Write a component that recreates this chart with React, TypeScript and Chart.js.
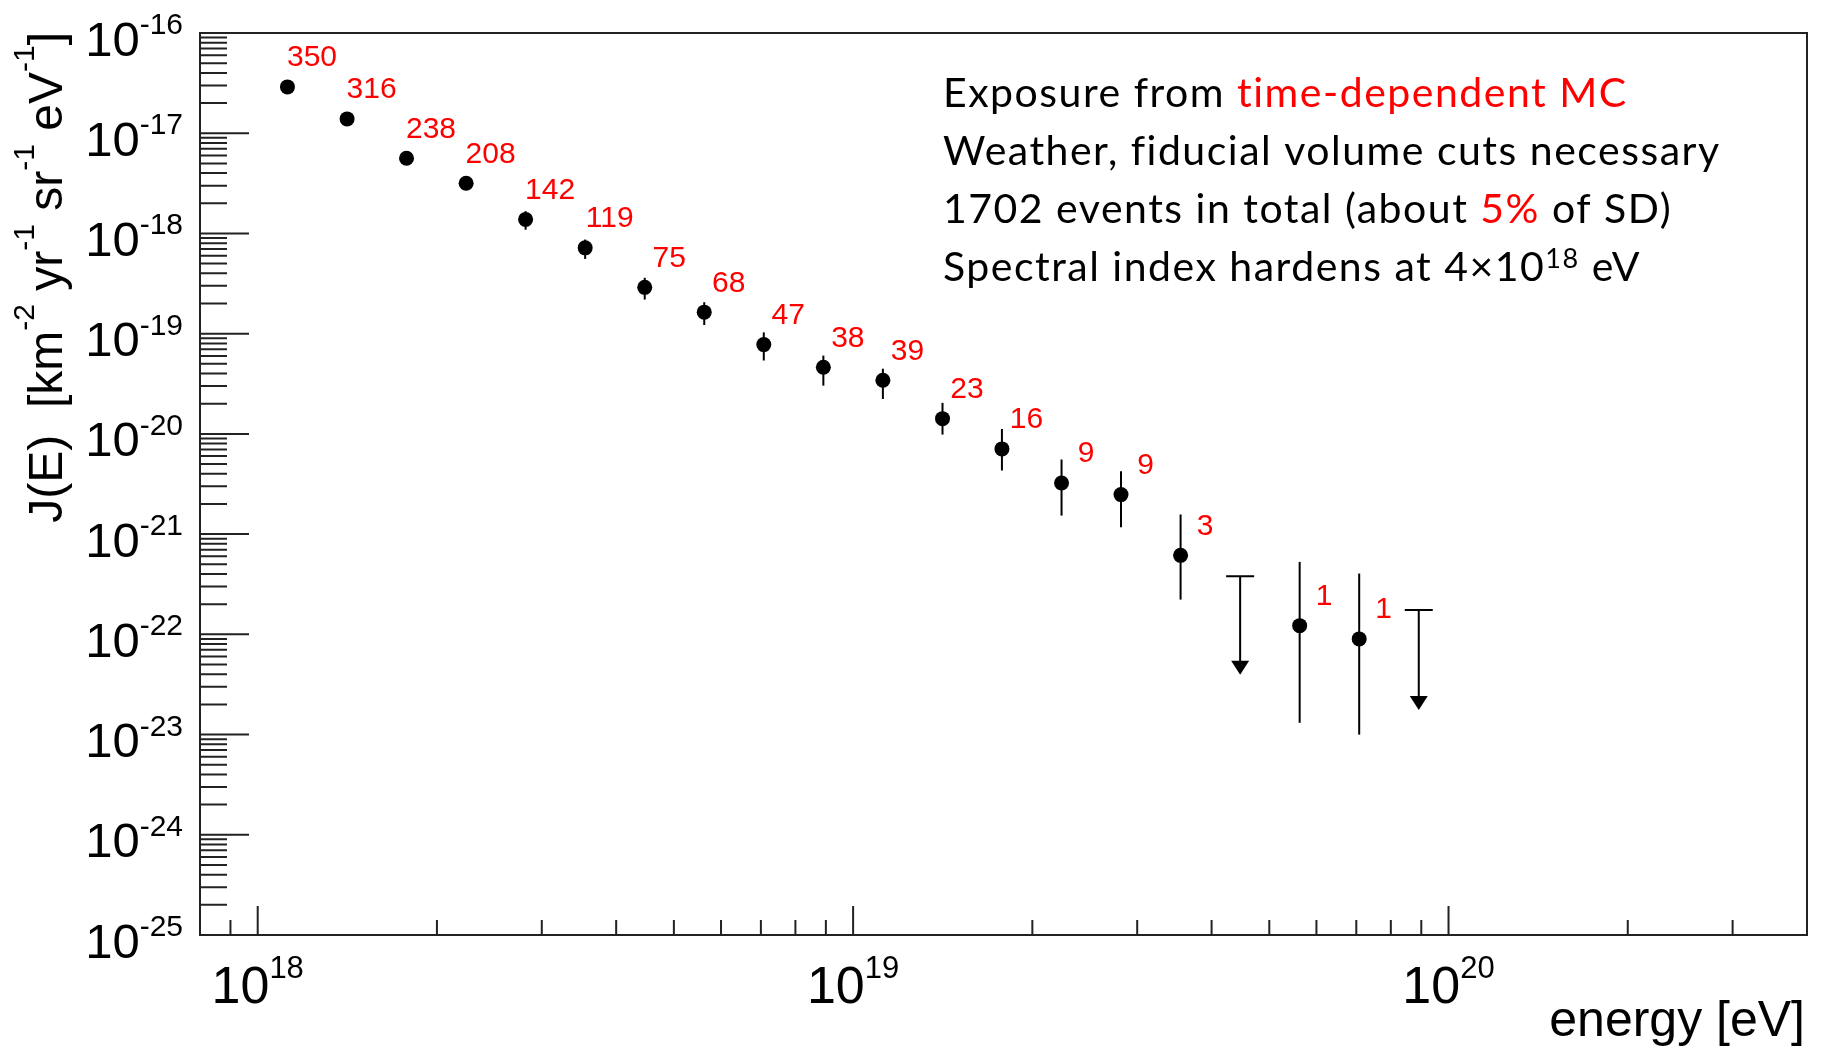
import React, { useEffect, useRef } from 'react';
import { Chart, registerables } from 'chart.js';

Chart.register(...registerables);

// Measured bins: centre energy (eV), flux J(E), error band and number of events
const energy = [
  1.122e18, 1.413e18, 1.778e18, 2.239e18, 2.818e18, 3.548e18, 4.467e18, 5.623e18, 7.079e18,
  8.913e18, 1.122e19, 1.413e19, 1.778e19, 2.239e19, 2.818e19, 3.548e19, 5.623e19, 7.079e19,
];
const flux = [
  2.9e-17, 1.39e-17, 5.63e-18, 3.17e-18, 1.38e-18, 7.18e-19, 2.9e-19, 1.64e-19, 7.78e-20,
  4.62e-20, 3.43e-20, 1.42e-20, 7.08e-21, 3.24e-21, 2.48e-21, 6.14e-22, 1.22e-22, 9.0e-23,
];
const fluxUpper = [
  3.08e-17, 1.48e-17, 6.05e-18, 3.45e-18, 1.67e-18, 8.69e-19, 3.61e-19, 2.06e-19, 1.03e-19,
  6.04e-20, 4.47e-20, 2.04e-20, 1.12e-20, 5.55e-21, 4.24e-21, 1.57e-21, 5.28e-22, 4.04e-22,
];
const fluxLower = [
  2.74e-17, 1.31e-17, 5.25e-18, 2.9e-18, 1.09e-18, 5.57e-19, 2.19e-19, 1.22e-19, 5.4e-20,
  3.03e-20, 2.23e-20, 9.84e-21, 4.31e-21, 1.53e-21, 1.17e-21, 2.22e-22, 1.31e-23, 9.98e-24,
];
const events = [350, 316, 238, 208, 142, 119, 75, 68, 47, 38, 39, 23, 16, 9, 9, 3, 1, 1];

// Empty bins: upper limit and the end of the downward arrow
const limitEnergy = [4.467e19, 8.913e19];
const limitFlux = [3.79e-22, 1.75e-22];
const limitArrowEnd = [3.96e-23, 1.76e-23];

// Axis ranges and tick labels
const xRange = [8e17, 4e20];
const yRange = [1e-25, 1e-16];
const xMajorTicks = [1e18, 1e19, 1e20];
const xTickExponents = ['18', '19', '20'];
const yMajorTicks = [1e-25, 1e-24, 1e-23, 1e-22, 1e-21, 1e-20, 1e-19, 1e-18, 1e-17, 1e-16];
const yTickExponents = ['-25', '-24', '-23', '-22', '-21', '-20', '-19', '-18', '-17', '-16'];
const minorMultipliers = [2, 3, 4, 5, 6, 7, 8, 9];

type Seg = { t: string; sup?: boolean; color?: string };

const RED = '#ff0000';
const AXIS_FONT = '"Liberation Sans", Arial, Helvetica, sans-serif';
const NOTE_FONT = 'Lato, "Open Sans", sans-serif';

const yTitle: Seg[] = [
  { t: 'J(E)  [km' }, { t: '-2', sup: true }, { t: ' yr' }, { t: '-1', sup: true },
  { t: ' sr' }, { t: '-1', sup: true }, { t: ' eV' }, { t: '-1', sup: true }, { t: ']' },
];
const xTitle: Seg[] = [{ t: 'energy [eV]' }];

const noteLines: Seg[][] = [
  [{ t: 'Exposure from ' }, { t: 'time-dependent MC', color: RED }],
  [{ t: 'Weather, fiducial volume cuts necessary' }],
  [{ t: '1702 events in total (about ' }, { t: '5%', color: RED }, { t: ' of SD)' }],
  [{ t: 'Spectral index hardens at 4×10' }, { t: '18', sup: true }, { t: ' eV' }],
];

type RichOpts = {
  family: string;
  size: number;
  supSize: number;
  raise: number;
  align: 'left' | 'center' | 'right';
  color?: string;
  spacing?: number;
};

function drawRich(ctx: CanvasRenderingContext2D, segs: Seg[], x: number, y: number, o: RichOpts) {
  ctx.textAlign = 'left';
  ctx.textBaseline = 'alphabetic';
  const c = ctx as any;
  c.letterSpacing = `${o.spacing || 0}px`;
  const widths = segs.map((s) => {
    ctx.font = `${s.sup ? o.supSize : o.size}px ${o.family}`;
    return ctx.measureText(s.t).width;
  });
  const total = widths.reduce((a, b) => a + b, 0);
  let cx = o.align === 'left' ? x : o.align === 'center' ? x - total / 2 : x - total;
  segs.forEach((s, i) => {
    ctx.font = `${s.sup ? o.supSize : o.size}px ${o.family}`;
    ctx.fillStyle = s.color || o.color || '#000';
    ctx.fillText(s.t, cx, s.sup ? y - o.raise : y);
    cx += widths[i];
  });
  c.letterSpacing = '0px';
}

// Frame, inward ticks, exponent labels, axis titles and notes (ROOT style)
const framePlugin = {
  id: 'rootFrame',
  beforeDatasetsDraw(chart: any) {
    const ctx: CanvasRenderingContext2D = chart.ctx;
    const xs = chart.scales.x;
    const ys = chart.scales.y;
    ctx.save();
    ctx.strokeStyle = '#000';
    ctx.fillStyle = '#000';
    ctx.lineWidth = 2;
    // vertical error bars of measured bins
    energy.forEach((e, i) => {
      const px = xs.getPixelForValue(e);
      ctx.beginPath();
      ctx.moveTo(px, ys.getPixelForValue(fluxUpper[i]));
      ctx.lineTo(px, ys.getPixelForValue(fluxLower[i]));
      ctx.stroke();
    });
    // upper limits with downward arrows
    limitEnergy.forEach((e, i) => {
      const px = xs.getPixelForValue(e);
      const top = ys.getPixelForValue(limitFlux[i]);
      const tip = ys.getPixelForValue(limitArrowEnd[i]);
      ctx.beginPath();
      ctx.moveTo(px - 14, top);
      ctx.lineTo(px + 14, top);
      ctx.moveTo(px, top);
      ctx.lineTo(px, tip - 12);
      ctx.stroke();
      ctx.beginPath();
      ctx.moveTo(px - 9, tip - 14);
      ctx.lineTo(px + 9, tip - 14);
      ctx.lineTo(px, tip);
      ctx.closePath();
      ctx.fill();
    });
    ctx.restore();
  },
  afterDraw(chart: any) {
    const ctx: CanvasRenderingContext2D = chart.ctx;
    const { left, right, top, bottom } = chart.chartArea;
    const xs = chart.scales.x;
    const ys = chart.scales.y;
    ctx.save();
    ctx.strokeStyle = '#222';
    ctx.lineWidth = 2;
    ctx.strokeRect(left, top, right - left, bottom - top);

    // y ticks on the left frame
    ctx.beginPath();
    yMajorTicks.forEach((v, k) => {
      const py = ys.getPixelForValue(v);
      if (k > 0 && k < yMajorTicks.length - 1) {
        ctx.moveTo(left, py);
        ctx.lineTo(left + 49, py);
      }
      if (k < yMajorTicks.length - 1) {
        minorMultipliers.forEach((m) => {
          const pm = ys.getPixelForValue(v * m);
          ctx.moveTo(left, pm);
          ctx.lineTo(left + 27, pm);
        });
      }
    });
    // x ticks on the bottom frame
    xMajorTicks.forEach((v) => {
      const px = xs.getPixelForValue(v);
      ctx.moveTo(px, bottom);
      ctx.lineTo(px, bottom - 29);
    });
    [1e17, ...xMajorTicks].forEach((v) => {
      minorMultipliers.forEach((m) => {
        const val = v * m;
        if (val <= xRange[0] || val >= xRange[1]) return;
        const px = xs.getPixelForValue(val);
        ctx.moveTo(px, bottom);
        ctx.lineTo(px, bottom - 15);
      });
    });
    ctx.stroke();

    // tick labels
    yMajorTicks.forEach((v, k) => {
      const py = ys.getPixelForValue(v);
      drawRich(ctx, [{ t: '10' }, { t: yTickExponents[k], sup: true }], 183, py + 22.5, {
        family: AXIS_FONT, size: 49, supSize: 30, raise: 21.5, align: 'right',
      });
    });
    xMajorTicks.forEach((v, k) => {
      const px = xs.getPixelForValue(v);
      drawRich(ctx, [{ t: '10' }, { t: xTickExponents[k], sup: true }], px, 1003, {
        family: AXIS_FONT, size: 52, supSize: 31, raise: 25.5, align: 'center',
      });
    });

    // axis titles
    drawRich(ctx, xTitle, 1805, 1036, { family: AXIS_FONT, size: 50, supSize: 30, raise: 20, align: 'right' });
    ctx.save();
    ctx.translate(62, 32);
    ctx.rotate(-Math.PI / 2);
    drawRich(ctx, yTitle, 0, 0, { family: AXIS_FONT, size: 48, supSize: 30, raise: 28, align: 'right' });
    ctx.restore();

    // number of events in each bin
    energy.forEach((e, i) => {
      const px = xs.getPixelForValue(e);
      const py = ys.getPixelForValue(flux[i]);
      drawRich(ctx, [{ t: String(events[i]) }], px + 24.5, py - 20.6, {
        family: AXIS_FONT, size: 30, supSize: 20, raise: 10, align: 'center', color: RED,
      });
    });

    // notes
    noteLines.forEach((line, k) => {
      drawRich(ctx, line, 943, 107 + k * 58, {
        family: NOTE_FONT, size: 41, supSize: 27, raise: 13, align: 'left', spacing: 1.5,
      });
    });
    ctx.restore();
  },
};

export default function App() {
  const canvasRef = useRef<HTMLCanvasElement | null>(null);

  useEffect(() => {
    const canvas = canvasRef.current;
    if (!canvas) return;
    const chart = new Chart(canvas, {
      type: 'scatter',
      data: {
        datasets: [
          {
            label: 'J(E)',
            data: energy.map((e, i) => ({ x: e, y: flux[i] })),
            backgroundColor: '#000',
            borderColor: '#000',
            borderWidth: 0,
            pointRadius: 7.5,
            pointHoverRadius: 7.5,
          },
        ],
      },
      options: {
        responsive: false,
        animation: false,
        devicePixelRatio: 1,
        layout: { padding: { left: 200, top: 33, right: 15, bottom: 113 } },
        plugins: { legend: { display: false }, tooltip: { enabled: false } },
        events: [],
        scales: {
          x: { type: 'logarithmic', min: xRange[0], max: xRange[1], display: false },
          y: { type: 'logarithmic', min: yRange[0], max: yRange[1], display: false },
        },
      },
      plugins: [framePlugin],
    });
    return () => chart.destroy();
  }, []);

  return (
    <div style={{ position: 'fixed', left: 0, top: 0, width: 1822, height: 1048, background: '#fff' }}>
      <canvas ref={canvasRef} width={1822} height={1048} style={{ display: 'block' }} />
    </div>
  );
}
